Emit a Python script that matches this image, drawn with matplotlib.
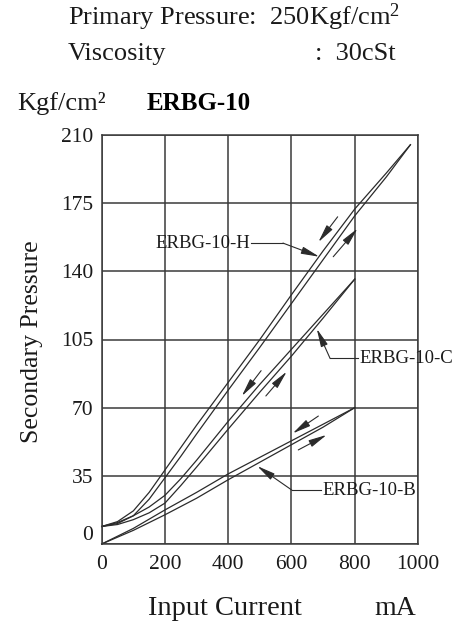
import matplotlib
matplotlib.use('Agg')
import matplotlib.pyplot as plt
from matplotlib.transforms import ScaledTranslation

plt.rcParams['font.family'] = ['Liberation Serif', 'DejaVu Serif']
plt.rcParams['mathtext.fontset'] = 'custom'
plt.rcParams['mathtext.rm'] = 'Liberation Serif'
plt.rcParams['mathtext.it'] = 'Liberation Serif:italic'
plt.rcParams['mathtext.bf'] = 'Liberation Serif:bold'

# data (x = input current mA, y = secondary pressure Kgf/cm2)
h_down_x = [0, 50, 100, 150, 200, 250, 300, 400, 500, 600, 700, 800, 900, 976]
h_down_y = [9, 11.5, 17, 26.5, 38, 49.5, 61, 83, 105, 128, 150.5, 172, 190.5, 205]
h_up_x = [0, 50, 100, 150, 200, 250, 300, 400, 500, 600, 700, 800, 900, 976]
h_up_y = [9, 10.5, 14.5, 23, 34, 45, 56.5, 79, 101, 123.5, 146, 168.5, 188.5, 205]

c_down_x = [0, 50, 100, 150, 200, 250, 300, 400, 500, 600, 700, 800]
c_down_y = [9, 11, 14.5, 19, 25, 33.5, 43, 63, 82, 100, 118, 136]
c_up_x = [0, 50, 100, 150, 200, 250, 300, 400, 500, 600, 700, 800]
c_up_y = [9, 10, 12.5, 16, 21, 30, 39.5, 59, 78, 96.5, 116, 136]

b_down_x = [0, 100, 200, 300, 400, 500, 600, 700, 800]
b_down_y = [0, 8, 17.5, 26.5, 36, 44.5, 53, 61.5, 70]
b_up_x = [0, 100, 200, 300, 400, 500, 600, 700, 800]
b_up_y = [0, 7, 15, 23.5, 33, 42, 51, 60, 70]

x_ticks = [0, 200, 400, 600, 800, 1000]
y_ticks = [0, 35, 70, 105, 140, 175, 210]

# labels: name, text pos, leader corner, arrow tip
labels = ['ERBG-10-H', 'ERBG-10-C', 'ERBG-10-B']
label_text = [(468, 154.5), (815, 95.3), (697, 27.7)]
label_corner = [(573, 154.5), (722, 95.3), (601, 27.7)]
label_tip = [(688, 147.5), (680, 110.5), (492, 40)]
label_ha = ['right', 'left', 'left']

# direction arrows (tail, head)
dir_arrows = [((746, 168), (685, 155)), ((732, 147.5), (809, 162)),
              ((504, 89), (443, 76)), ((519, 76), (585, 88.5)),
              ((685, 65.7), (604, 56.8)), ((621.5, 48.3), (711, 56))]

W, H = 454, 622
fig = plt.figure(figsize=(W / 100, H / 100), dpi=100)
ax = fig.add_axes([101.7 / W, (H - 544) / H, (418 - 101.7) / W, (544 - 135) / H])

line_c = '#2b2b2b'
text_c = '#1a1a1a'

for xs, ys in [(h_down_x, h_down_y), (h_up_x, h_up_y), (c_down_x, c_down_y),
               (c_up_x, c_up_y), (b_down_x, b_down_y), (b_up_x, b_up_y)]:
    ax.plot(xs, ys, color=line_c, lw=0.9, clip_on=False)

ax.set_xlim(0, 1000)
ax.set_ylim(0, 210)
ax.set_xticks(x_ticks)
ax.set_yticks(y_ticks)
ax.grid(True, color='#3a3a3a', lw=1.1)
ax.set_axisbelow(True)
for s in ax.spines.values():
    s.set_color('#3a3a3a')
    s.set_linewidth(1.1)
ax.tick_params(length=0, labelsize=15.5, colors=text_c, pad=6)
ax.tick_params(axis='x', pad=8)

# lift the y "0" label a bit, as in the original
lab0 = ax.yaxis.get_major_ticks()[0].label1
lab0.set_transform(lab0.get_transform() + ScaledTranslation(0, 8 / 72, fig.dpi_scale_trans))

aprops = dict(arrowstyle='-|>,head_length=1.1,head_width=0.22', color=line_c, lw=0.8,
              mutation_scale=10, shrinkA=0, shrinkB=0)

for name, tp, cp, tip, ha in zip(labels, label_text, label_corner, label_tip, label_ha):
    ax.text(tp[0], tp[1], name, ha=ha, va='center', fontsize=13.5, color=text_c, clip_on=False)
    ax.plot([tp[0] + (4 if ha == 'right' else -4), cp[0]], [tp[1], cp[1]],
            color=line_c, lw=0.8, clip_on=False)
    ax.annotate('', xy=tip, xytext=cp, arrowprops=aprops)

for tail, head in dir_arrows:
    ax.annotate('', xy=head, xytext=tail, arrowprops=aprops)

# header texts
fig.text(68 / W, 1 - 25 / H, r'Primary Pressure:  250Kgf/cm$^2$', fontsize=19,
         color=text_c, va='baseline')
fig.text(68 / W, 1 - 60 / H, 'Viscosity', fontsize=19, color=text_c, va='baseline')
fig.text(315 / W, 1 - 60 / H, ':  30cSt', fontsize=19, color=text_c, va='baseline')
fig.text(17 / W, 1 - 110 / H, 'Kgf/cm²', fontsize=19, color=text_c, va='baseline')
fig.text(147 / W, 1 - 110 / H, 'ERBG-10', fontsize=18, color='black', va='baseline',
         weight='bold')

fig.text(32 / W, 1 - 342 / H, 'Secondary Pressure', fontsize=18.5, color=text_c,
         rotation=90, ha='center', va='center')
fig.text(225 / W, 1 - 615 / H, 'Input Current', fontsize=20.5, color=text_c,
         ha='center', va='baseline')
fig.text(395 / W, 1 - 615 / H, 'mA', fontsize=20, color=text_c, ha='center', va='baseline')

fig.savefig('out.png', dpi=100, facecolor='white')
